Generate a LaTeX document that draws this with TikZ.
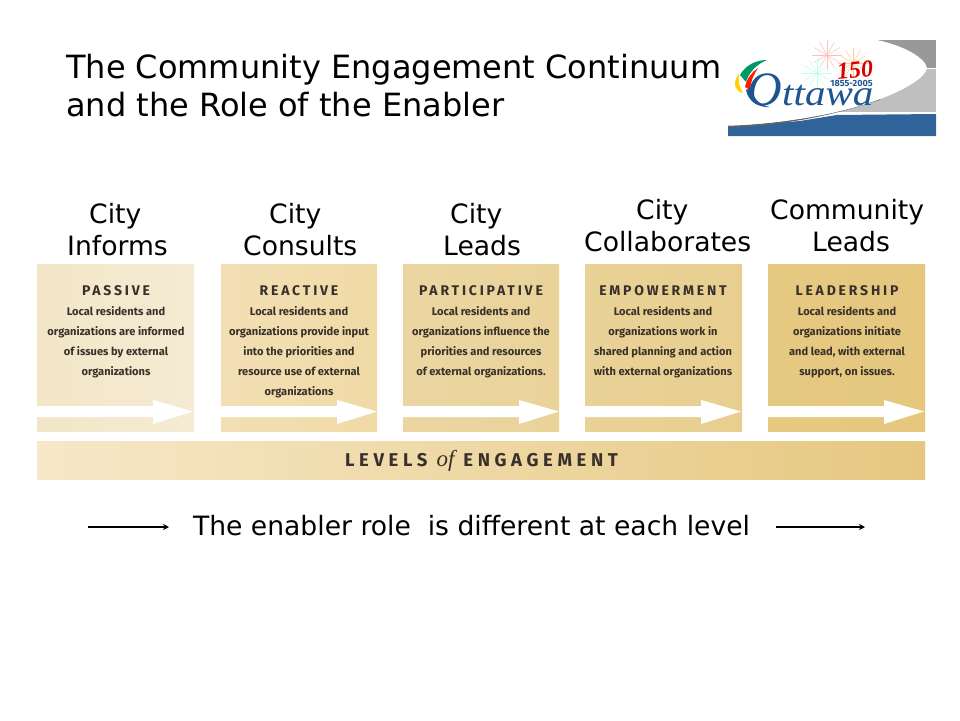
\documentclass[tikz,border=0pt]{standalone}
\usepackage{fontspec}
\setmainfont{DejaVu Sans}
\newfontfamily\panelfont{Fira Sans Bold}
\newfontfamily\headfont[LetterSpace=20]{Fira Sans Bold}
\newfontfamily\barfont[LetterSpace=25]{Fira Sans Bold}
\newfontfamily\ofont{Liberation Serif Italic}
\newfontfamily\yearfont{Liberation Serif Bold Italic}
\usetikzlibrary{arrows.meta}
\definecolor{inkdark}{HTML}{38302A}
\definecolor{logoblue}{HTML}{2F6399}
\definecolor{logonavy}{HTML}{1D5590}
\definecolor{passiveL}{HTML}{F3E6C8}
\definecolor{passiveR}{HTML}{F5EBD3}
\definecolor{reactiveL}{HTML}{F2DFB4}
\definecolor{reactiveR}{HTML}{F0DAA6}
\definecolor{partL}{HTML}{EBD6A2}
\definecolor{partR}{HTML}{E9D399}
\definecolor{empowerL}{HTML}{E9D297}
\definecolor{empowerR}{HTML}{E8CF90}
\definecolor{leadL}{HTML}{E6C981}
\definecolor{leadR}{HTML}{E5C77E}
\definecolor{barL}{HTML}{F6E8C8}
\definecolor{barR}{HTML}{E6C77F}
\begin{document}
\begin{tikzpicture}
    [x=1pt,y=-1pt,
     panel/.style={minimum width=157pt,minimum height=167.5pt,inner sep=0pt,anchor=north west},
     role/.style={align=left,anchor=west,font=\fontsize{26.6}{32}\selectfont,inner sep=0pt},
     head/.style={anchor=center,inner sep=0pt,text=inkdark,font=\headfont\fontsize{14}{14}\selectfont},
     blurb/.style={align=center,anchor=north,inner sep=0pt,text=inkdark,
       font=\panelfont\fontsize{11.1}{20}\selectfont},
     band/.style={fill=white,draw=none},
     flow/.style={-{Stealth[length=6pt,width=6pt]},line width=2.2pt},
     spark/.style={line width=0.5pt}]
    \useasboundingbox (0,0) rectangle (960,720);
    \fill[white] (0,0) rectangle (960,720);
    % title
    \node (title) [anchor=north west,align=left,inner sep=0pt,
      font=\fontsize{32}{38}\selectfont] at (66,54)
      {The Community Engagement Continuum\\and the Role of the Enabler};
    % logo
    \fill[black!40] (728,40) rectangle (936,68);
    \fill[black!25] (728,69) rectangle (936,112);
    \fill[logoblue] (728,127) -- (800,121) -- (837,115) -- (936,114) -- (936,136) -- (728,136) -- cycle;
    \draw[black!60,line width=1.5pt] (728,126.5) .. controls (780,125) and (830,116) .. (880,99);
    \fill[white] (728,40) -- (877,40) .. controls (905,46) and (925,58) .. (927,68)
      .. controls (925,85) and (850,122) .. (728,125) -- cycle;
    \foreach \ang in {0,30,...,330}
      \draw[spark,red!25] (827,55) -- ++(\ang:15);
    \foreach \ang in {0,30,...,330}
      \draw[spark,green!35!cyan!25] (817,73) -- ++(\ang:15);
    \foreach \ang in {0,30,...,330}
      \draw[spark,orange!40] (853,63) -- ++(\ang:15);
    \fill[yellow!70!orange] (735,84) .. controls (735,80) and (737,76) .. (739,74)
      .. controls (738,80) and (739,86) .. (743,93) .. controls (738,92) and (735,88) .. (735,84) -- cycle;
    \fill[teal!80!green] (740,75) .. controls (745,66) and (755,60) .. (767,60)
      .. controls (757,64) and (749,72) .. (746,82) -- cycle;
    \fill[red!80!orange] (745,87) .. controls (747,78) and (752,72) .. (758,68)
      .. controls (754,74) and (751,80) .. (750,90) -- cycle;
    \fill[logonavy] (746,90) .. controls (748,102) and (760,108) .. (770,107)
      .. controls (762,106) and (753,100) .. (751,88) -- cycle;
    \node (logoinitial) [inner sep=0pt,anchor=base west,text=logonavy,font=\ofont\fontsize{48}{48}\selectfont] at (747,105) {O};
    \node (logorest) [inner sep=0pt,anchor=base west,xscale=1.14,text=logonavy,font=\ofont\fontsize{36}{36}\selectfont] at (782,105) {ttawa};
    \node (logoyear) [inner sep=0pt,text=red!85!black,rotate=6,font=\yearfont\fontsize{24}{24}\selectfont] at (855,70) {150};
    \node (logospan) [inner sep=0pt,text=logonavy,font=\panelfont\fontsize{9}{9}\selectfont] at (851.5,83) {1855-2005};
    % role labels
    \node (informs) [role] at (67,230) {\hspace*{22pt}City\\Informs};
    \node (consults) [role] at (243,230) {\hspace*{26pt}City\\Consults};
    \node (leads) [role] at (443,230) {\hspace*{7pt}City\\Leads};
    \node (collab) [role] at (584,226) {\hspace*{52pt}City\\Collaborates};
    \node (commun) [role] at (770,226) {Community\\\hspace*{42pt}Leads};
    % panels
    \node (passive) [panel,left color=passiveL,right color=passiveR] at (37,264) {};
    \node (reactive) [panel,minimum width=156pt,left color=reactiveL,right color=reactiveR] at (221,264) {};
    \node (particip) [panel,minimum width=156pt,left color=partL,right color=partR] at (403,264) {};
    \node (empower) [panel,left color=empowerL,right color=empowerR] at (585,264) {};
    \node (leader) [panel,left color=leadL,right color=leadR] at (768,264) {};
    % white arrows
    \foreach \x in {37,221,403,585,768}
      \fill[band] (\x,406) -- (\x+116,406) -- (\x+116,400) -- (\x+156,411.5) -- (\x+116,424) -- (\x+116,417) -- (\x,417) -- cycle;
    % panel texts
    \node (passivehead) [head] at (116,291) {PASSIVE};
    \node (passivetext) [blurb] at (116,306) {Local residents and\\organizations are informed\\of issues by external\\organizations};
    \node (reactivehead) [head] at (299,291) {REACTIVE};
    \node (reactivetext) [blurb] at (299,306) {Local residents and\\organizations provide input\\into the priorities and\\resource use of external\\organizations};
    \node (participhead) [head] at (481,291) {PARTICIPATIVE};
    \node (participtext) [blurb] at (481,306) {Local residents and\\organizations influence the\\priorities and resources\\of external organizations.};
    \node (empowerhead) [head] at (663,291) {EMPOWERMENT};
    \node (empowertext) [blurb] at (663,306) {Local residents and\\organizations work in\\shared planning and action\\with external organizations};
    \node (leaderhead) [head] at (847,291) {LEADERSHIP};
    \node (leadertext) [blurb] at (847,306) {Local residents and\\organizations initiate\\and lead, with external\\support, on issues.};
    % levels bar
    \node (levels) [anchor=north west,minimum width=888pt,minimum height=38pt,inner sep=0pt,
      left color=barL,right color=barR] at (37,441) {};
    \node (levelstext) [inner sep=0pt,text=inkdark,font=\barfont\fontsize{18.5}{20}\selectfont] at (481.5,461)
      {LEVELS {\ofont\fontsize{23}{23}\selectfont of} ENGAGEMENT};
    % enabler line
    \node (enabler) [inner sep=0pt,font=\fontsize{26.6}{30}\selectfont] at (471.5,526)
      {The enabler role\ \ is different at each level};
    \coordinate (leftstart) at (88,527);
    \coordinate (leftend) at (169,527);
    \coordinate (rightstart) at (776,527);
    \coordinate (rightend) at (865,527);
    \draw [flow] (leftstart) -- (leftend);
    \draw [flow] (rightstart) -- (rightend);
  \end{tikzpicture}
\end{document}
